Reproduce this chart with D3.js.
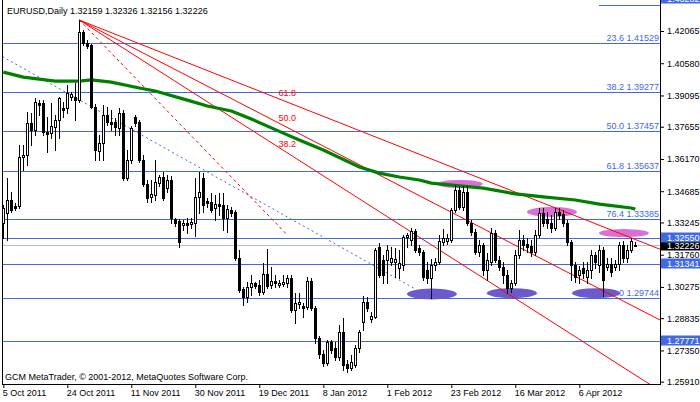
<!DOCTYPE html>
<html><head><meta charset="utf-8">
<script src="https://cdnjs.cloudflare.com/ajax/libs/d3/7.8.5/d3.min.js"></script>
<style>
body{margin:0;background:#fff}
svg{display:block}
text{font-family:"Liberation Sans",Arial,sans-serif;font-size:9px}
</style></head>
<body><svg id="c" width="700" height="402"></svg>
<script>
// ---------- data ----------
const opens=[1.3322,1.3368,1.3428,1.3400,1.3400,1.3626,1.3635,1.3783,1.3750,1.3875,
1.3875,1.3741,1.3736,1.3764,1.3796,1.3852,1.3852,1.3902,1.3902,1.3888,
1.4202,1.4151,1.4142,1.3856,1.3654,1.3690,1.3819,1.3787,1.3787,1.3760,
1.3829,1.3529,1.3612,1.3810,1.3787,1.3612,1.3502,1.3442,1.3451,1.3506,
1.3534,1.3483,1.3520,1.3340,1.3331,1.3313,1.3322,1.3317,1.3322,1.3442,
1.3529,1.3423,1.3419,1.3391,1.3409,1.3405,1.3345,1.3382,1.3373,1.3161,
1.3018,1.2981,1.3027,1.3046,1.3036,1.3004,1.3087,1.3036,1.3055,1.3036,
1.3041,1.3046,1.3068,1.2921,1.2949,1.2940,1.2935,1.3055,1.2930,1.2792,
1.2718,1.2677,1.2774,1.2746,1.2705,1.2820,1.2672,1.2654,1.2668,1.2746,
1.2866,1.2958,1.2880,1.2889,1.3211,1.3151,1.3151,1.3142,1.3142,1.3115,
1.3128,1.3257,1.3244,1.3285,1.3207,1.3188,1.3105,1.3068,1.3128,1.3142,
1.3234,1.3239,1.3244,1.3382,1.3474,1.3396,1.3465,1.3322,1.3280,1.3188,
1.3221,1.3105,1.3142,1.3276,1.3151,1.3119,1.3082,1.3022,1.3046,1.3174,
1.3244,1.3225,1.3216,1.3188,1.3267,1.3368,1.3340,1.3322,1.3299,1.3373,
1.3363,1.3322,1.3234,1.3128,1.3082,1.3115,1.3073,1.3105,1.3174,1.3128,
1.3198,1.3119,1.3133,1.3119,1.3133,1.3221,1.3161,1.3198,1.32159];
const highs=[1.3405,1.3529,1.3465,1.3414,1.3681,1.3681,1.3833,1.3829,1.3898,1.3888,
1.3888,1.3810,1.3875,1.3819,1.3902,1.3879,1.3958,1.3925,1.3967,1.4257,
1.4211,1.4165,1.4146,1.3870,1.3727,1.3865,1.3856,1.3842,1.3806,1.3852,
1.3842,1.3658,1.3769,1.3819,1.3796,1.3635,1.3520,1.3520,1.3612,1.3543,
1.3557,1.3543,1.3538,1.3345,1.3340,1.3336,1.3345,1.3345,1.3529,1.3557,
1.3552,1.3437,1.3460,1.3451,1.3460,1.3460,1.3405,1.3396,1.3382,1.3198,
1.3027,1.3050,1.3082,1.3050,1.3059,1.3138,1.3202,1.3119,1.3082,1.3059,
1.3082,1.3082,1.3082,1.2999,1.2999,1.2953,1.3073,1.3068,1.2940,1.2801,
1.2737,1.2783,1.2783,1.2774,1.2852,1.2884,1.2691,1.2714,1.2760,1.2829,
1.2986,1.2981,1.2912,1.3207,1.3230,1.3174,1.3221,1.3211,1.3207,1.3198,
1.3267,1.3276,1.3299,1.3294,1.3221,1.3198,1.3142,1.3156,1.3161,1.3267,
1.3294,1.3271,1.3391,1.3497,1.3488,1.3492,1.3492,1.3336,1.3294,1.3244,
1.3230,1.3184,1.3299,1.3290,1.3170,1.3142,1.3105,1.3059,1.3198,1.3290,
1.3267,1.3253,1.3244,1.3290,1.3391,1.3391,1.3373,1.3359,1.3391,1.3391,
1.3382,1.3336,1.3244,1.3142,1.3124,1.3142,1.3142,1.3198,1.3188,1.3221,
1.3211,1.3161,1.3161,1.3151,1.3234,1.3239,1.3221,1.3253,1.32326];
const lows=[1.3253,1.3244,1.3373,1.3382,1.3391,1.3566,1.3589,1.3681,1.3727,1.3819,
1.3727,1.3649,1.3713,1.3658,1.3713,1.3810,1.3829,1.3888,1.3796,1.3879,
1.4142,1.4128,1.3852,1.3612,1.3612,1.3612,1.3773,1.3750,1.3727,1.3727,
1.3520,1.3520,1.3598,1.3769,1.3603,1.3492,1.3419,1.3419,1.3428,1.3492,
1.3428,1.3465,1.3322,1.3308,1.3211,1.3290,1.3276,1.3299,1.3262,1.3368,
1.3373,1.3396,1.3373,1.3336,1.3359,1.3290,1.3280,1.3354,1.3151,1.3004,
1.2944,1.2958,1.2990,1.3022,1.2990,1.2995,1.3022,1.3022,1.3027,1.3027,
1.3032,1.3027,1.2912,1.2861,1.2930,1.2889,1.2926,1.2921,1.2769,1.2700,
1.2663,1.2668,1.2723,1.2691,1.2691,1.2645,1.2636,1.2645,1.2659,1.2728,
1.2829,1.2917,1.2866,1.2884,1.3073,1.3046,1.3046,1.3128,1.3073,1.3068,
1.3105,1.3211,1.3221,1.3188,1.3174,1.3059,1.3046,1.2976,1.3105,1.3133,
1.3221,1.3225,1.3234,1.3373,1.3386,1.3382,1.3313,1.3267,1.3179,1.3170,
1.3082,1.3059,1.3128,1.3142,1.3105,1.3046,1.2999,1.3004,1.3036,1.3161,
1.3198,1.3188,1.3170,1.3174,1.3257,1.3308,1.3299,1.3280,1.3290,1.3340,
1.3308,1.3221,1.3059,1.3050,1.3046,1.3068,1.3046,1.3068,1.3115,1.3096,
1.2986,1.3105,1.3078,1.3105,1.3105,1.3142,1.3142,1.3188,1.32156];
const closes=[1.3391,1.3428,1.3382,1.3391,1.3626,1.3635,1.3783,1.3750,1.3879,1.3865,
1.3741,1.3732,1.3769,1.3796,1.3898,1.3842,1.3921,1.3916,1.3888,1.4202,
1.4151,1.4137,1.3856,1.3658,1.3690,1.3819,1.3787,1.3778,1.3764,1.3829,
1.3529,1.3612,1.3760,1.3783,1.3612,1.3502,1.3437,1.3456,1.3511,1.3534,
1.3437,1.3520,1.3345,1.3322,1.3234,1.3322,1.3313,1.3327,1.3442,1.3465,
1.3405,1.3414,1.3382,1.3409,1.3400,1.3345,1.3386,1.3368,1.3161,1.3013,
1.2981,1.3027,1.3046,1.3032,1.3004,1.3087,1.3032,1.3055,1.3046,1.3046,
1.3050,1.3068,1.2921,1.2953,1.2958,1.2930,1.3055,1.2930,1.2792,1.2718,
1.2677,1.2774,1.2737,1.2705,1.2820,1.2668,1.2654,1.2682,1.2746,1.2820,
1.2958,1.2930,1.2894,1.3198,1.3082,1.3082,1.3198,1.3161,1.3156,1.3138,
1.3257,1.3267,1.3285,1.3198,1.3188,1.3073,1.3068,1.3128,1.3142,1.3239,
1.3253,1.3253,1.3382,1.3474,1.3396,1.3465,1.3322,1.3280,1.3188,1.3221,
1.3105,1.3151,1.3276,1.3151,1.3119,1.3082,1.3022,1.3046,1.3174,1.3244,
1.3221,1.3211,1.3188,1.3267,1.3368,1.3322,1.3322,1.3299,1.3373,1.3359,
1.3322,1.3234,1.3128,1.3073,1.3105,1.3092,1.3105,1.3174,1.3142,1.3198,
1.3059,1.3133,1.3096,1.3133,1.3221,1.3161,1.3198,1.3239,1.32226];

// moving average (read at selected bars)
const maBars=[0,5,13,19,22,27,34,38,46,51,57,62,70,74,80,89,94,99,104,107,120,128,135,143,149,157,158];
const maValues=[1.4017,1.3994,1.3976,1.3976,1.3981,1.3971,1.3944,1.3930,1.3888,1.3861,1.3838,1.3801,1.3736,1.3704,1.3658,1.3580,1.3552,1.3534,1.3520,1.3506,1.3483,1.3456,1.3442,1.3428,1.3409,1.3391,1.3386];

const dateTickBars=[0,16,32,48,64,80,96,112,128,144];
const dateLabels=["5 Oct 2011","24 Oct 2011","11 Nov 2011","30 Nov 2011","19 Dec 2011","8 Jan 2012","1 Feb 2012","23 Feb 2012","16 Mar 2012","6 Apr 2012"];
const priceTicks=[1.42065,1.40580,1.39095,1.37655,1.36170,1.34685,1.33245,1.31760,1.30275,1.28835,1.27350,1.25910];

const fibLevels=["23.6","38.2","50.0","61.8","76.4","100.0"];
const fibPrices=[1.41529,1.39277,1.37457,1.35637,1.33385,1.29744];
const hLinePrices=[1.32550,1.31341,1.27771];
const topLinePrice=1.43282;
const topLineFromBar=149;
const bidPrice=1.32226;

const fanAnchorBars=[19,71];
const fanAnchorPrices=[1.4257,1.3267];
const fanLevels=[0.382,0.5,0.618];
const fanLabels=["38.2","50.0","61.8"];
const dotLineBars=[0,103];
const dotLinePrices=[1.4086,1.3018];

// ellipses: [barFrom, barTo, priceTop, priceBottom]
const ellipsesBlue=[[100.9,113.4,1.3020,1.2970],[120.9,133.4,1.3022,1.2976],[142.2,154.2,1.3022,1.2976]];
const ellipsesPink=[[108.4,119.9,1.3520,1.3483],[130.9,143.4,1.3396,1.3350],[148.9,161.4,1.3294,1.3257]];

// ---------- drawing ----------
const svg=d3.select("#c");
const plotL=2,plotR=660,plotB=384;
const x=d3.scaleLinear().domain([0,158]).range([3.3,635.3]);
const y=d3.scaleLinear().domain([1.42065,1.25910]).range([31,381.7]);
const pr=v=>Math.round(v)+0.5;
const BLUE="#4169e1";

svg.append("rect").attr("width",700).attr("height",402).attr("fill","#fff");
svg.append("defs").append("clipPath").attr("id","clip").append("rect")
  .attr("x",plotL+1).attr("y",0).attr("width",plotR-plotL-1).attr("height",plotB);
const plot=svg.append("g").attr("clip-path","url(#clip)");

// horizontal lines
fibPrices.concat(hLinePrices).forEach(p=>{
  plot.append("line").attr("x1",plotL).attr("x2",plotR).attr("y1",pr(y(p))).attr("y2",pr(y(p)))
    .attr("stroke",BLUE).attr("stroke-width",1).attr("shape-rendering","crispEdges");
});
plot.append("line").attr("x1",x(topLineFromBar)).attr("x2",plotR).attr("y1",pr(y(topLinePrice))).attr("y2",pr(y(topLinePrice)))
  .attr("stroke",BLUE).attr("stroke-width",1).attr("shape-rendering","crispEdges");
plot.append("line").attr("x1",plotL).attr("x2",plotR).attr("y1",pr(y(bidPrice))).attr("y2",pr(y(bidPrice)))
  .attr("stroke","#c0c0c0").attr("stroke-width",1).attr("shape-rendering","crispEdges");

// fib labels
fibPrices.forEach((p,i)=>{
  plot.append("text").attr("x",659).attr("y",Math.round(y(p))-2).attr("text-anchor","end")
    .attr("fill",BLUE).text(fibLevels[i]+" "+p.toFixed(5));
});

// ellipses
function drawEll(arr,col){
  arr.forEach(e=>{
    const cx=(x(e[0])+x(e[1]))/2, rx=(x(e[1])-x(e[0]))/2;
    const cy=(y(e[2])+y(e[3]))/2, ry=(y(e[3])-y(e[2]))/2;
    plot.append("ellipse").attr("cx",cx).attr("cy",cy).attr("rx",rx).attr("ry",ry).attr("fill",col);
  });
}
drawEll(ellipsesBlue,"#6a5acd");
drawEll(ellipsesPink,"#da70d6");

// blue dotted trend line
plot.append("line").attr("x1",x(dotLineBars[0])-1).attr("y1",y(dotLinePrices[0])-0.6)
  .attr("x2",x(dotLineBars[1])).attr("y2",y(dotLinePrices[1]))
  .attr("stroke",BLUE).attr("stroke-width",1).attr("stroke-dasharray","2,3");

// fibonacci fan
const fx1=x(fanAnchorBars[0]), fy1=y(fanAnchorPrices[0]);
const fx2=x(fanAnchorBars[1]), fy2=y(fanAnchorPrices[1]);
plot.append("line").attr("x1",fx1).attr("y1",fy1).attr("x2",fx2).attr("y2",fy2)
  .attr("stroke","#ff0000").attr("stroke-width",1).attr("stroke-dasharray","3,3");
fanLevels.forEach((v,i)=>{
  const pv=fanAnchorPrices[1]+v*(fanAnchorPrices[0]-fanAnchorPrices[1]);
  const yv=y(pv);
  const slope=(yv-fy1)/(fx2-fx1);
  const xe=plotR, ye=fy1+slope*(xe-fx1);
  plot.append("line").attr("x1",fx1).attr("y1",fy1).attr("x2",xe).attr("y2",ye)
    .attr("stroke","#ff0000").attr("stroke-width",1);
  plot.append("text").attr("x",fx2).attr("y",yv-6).attr("text-anchor","middle")
    .attr("fill","#ff0000").text(fanLabels[i]);
});

// moving average
const maLine=d3.line().x((d,i)=>x(maBars[i])).y(d=>y(d));
plot.append("path").attr("d",maLine(maValues)).attr("fill","none")
  .attr("stroke","#008000").attr("stroke-width",3.2);

// candles
const candles=plot.append("g").attr("shape-rendering","crispEdges");
opens.forEach((o,i)=>{
  const c=closes[i];
  const cx=pr(x(i));
  candles.append("line").attr("x1",cx).attr("x2",cx).attr("y1",Math.round(y(highs[i])))
    .attr("y2",Math.round(y(lows[i]))+1).attr("stroke","#000");
  const top=Math.round(y(Math.max(o,c))), bot=Math.round(y(Math.min(o,c)));
  candles.append("rect").attr("x",cx-1).attr("y",top+0.5).attr("width",2)
    .attr("height",Math.max(0,bot-top)).attr("fill",c>=o?"#fff":"#000").attr("stroke","#000");
});

// frame
const frame=svg.append("g").attr("shape-rendering","crispEdges").attr("stroke","#000");
frame.append("line").attr("x1",2.5).attr("x2",2.5).attr("y1",0).attr("y2",plotB+1);
frame.append("line").attr("x1",plotR+0.5).attr("x2",plotR+0.5).attr("y1",0).attr("y2",plotB+1);
frame.append("line").attr("x1",2).attr("x2",plotR+1).attr("y1",plotB+0.5).attr("y2",plotB+0.5);

// right axis
const yAxis=d3.axisRight(y).tickValues(priceTicks).tickSize(4).tickPadding(3).tickFormat(d3.format(".5f"));
const ya=svg.append("g").attr("transform",`translate(${plotR},0)`).call(yAxis);
ya.select(".domain").remove();
ya.attr("font-family",null).attr("font-size",null);
ya.selectAll("text").attr("fill","#000").attr("font-size","9px");

// bottom axis
const xAxis=d3.axisBottom(x).tickValues(dateTickBars).tickSize(4).tickPadding(2).tickFormat((d,i)=>dateLabels[i]);
const xa=svg.append("g").attr("transform",`translate(0,${plotB})`).call(xAxis);
xa.select(".domain").remove();
xa.attr("font-family",null).attr("font-size",null);
xa.selectAll("text").attr("text-anchor","start").attr("x",-1).attr("fill","#000");

// price boxes on axis
function priceBox(p,bg,cy){
  svg.append("rect").attr("x",661).attr("y",Math.round(cy)-5.5).attr("width",39).attr("height",10).attr("fill",bg);
  svg.append("text").attr("x",667).attr("y",cy).attr("dy","0.33em").attr("fill","#fff").text(p.toFixed(5));
}
priceBox(bidPrice,"#000",y(bidPrice)+1);
hLinePrices.forEach(p=>priceBox(p,BLUE,y(p)));
priceBox(topLinePrice,BLUE,y(topLinePrice)-6);

// header & footer text
svg.append("text").attr("x",7).attr("y",14).attr("fill","#000")
  .text("EURUSD,Daily  "+[opens[158],highs[158],lows[158],closes[158]].map(v=>v.toFixed(5)).join(" "));
svg.append("text").attr("x",5).attr("y",380).attr("fill","#000")
  .text("GCM MetaTrader, \u00a9 2001-2012, MetaQuotes Software Corp.");
</script></body></html>
